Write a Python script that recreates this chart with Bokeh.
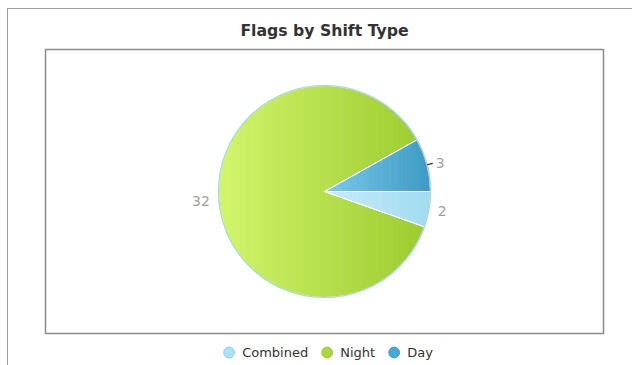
import numpy as np
from bokeh.plotting import figure
from bokeh.layouts import column
from bokeh.models import Range1d, Legend, LegendItem
from bokeh.core.properties import value
from bokeh.embed import file_html
from bokeh.resources import INLINE

# ---- data ----
categories = ["Combined", "Night", "Day"]
values = [2, 32, 3]
labels = ["2", "32", "3"]
color_left = ["#c8ecfa", "#d2f56c", "#7ccaec"]
color_right = ["#a0dbf0", "#9ccb2e", "#3c9ac4"]
legend_colors = ["#ace0f5", "#a9d840", "#4aa8d4"]
legend_edges = ["#8fcde6", "#97c933", "#3d9bc6"]
connector = [False, False, True]

# ---- layout ----
W = 624
H1, H2 = 330, 26
ML, MR, MT, MB = 37, 29, 40, 6
R_PX = 106.0
fw, fh = W - ML - MR, H1 - MT - MB
xr = fw / 2 / R_PX
yr = fh / 2 / R_PX

p = figure(width=W, height=H1, output_backend="svg", toolbar_location=None,
           x_range=Range1d(-xr, xr), y_range=Range1d(-yr, yr),
           x_axis_location=None, y_axis_location=None,
           min_border_left=ML, min_border_right=MR, min_border_top=MT,
           min_border_bottom=MB, title="Flags by Shift Type")
p.grid.grid_line_color = None
p.background_fill_color = "white"
p.border_fill_color = "white"
p.outline_line_color = "#8a8a8a"
p.outline_line_width = 1.5
p.title.align = "center"
p.title.text_font = "DejaVu Sans"
p.title.text_font_size = "15.7px"
p.title.text_font_style = "bold"
p.title.text_color = "#333333"
p.title.standoff = 19


def hex2rgb(h):
    h = h.lstrip("#")
    return np.array([int(h[i:i + 2], 16) for i in (0, 2, 4)], dtype=float)


def rgb2hex(c):
    return "#%02x%02x%02x" % tuple(int(round(v)) for v in c)


def clip_x(pts, c, keep_greater):
    out = []
    n = len(pts)
    for i in range(n):
        cur, prev = pts[i], pts[i - 1]
        kc = cur[0] >= c if keep_greater else cur[0] <= c
        kp = prev[0] >= c if keep_greater else prev[0] <= c
        if kc:
            if not kp:
                t = (c - prev[0]) / (cur[0] - prev[0])
                out.append((c, prev[1] + t * (cur[1] - prev[1])))
            out.append(cur)
        elif kp:
            t = (c - prev[0]) / (cur[0] - prev[0])
            out.append((c, prev[1] + t * (cur[1] - prev[1])))
    return out


total = float(sum(values))
cum = np.concatenate([[0.0], np.cumsum(values)]) / total
# clockwise from 3 o'clock
starts = [float(v) for v in -2 * np.pi * cum[1:]]
ends = [float(v) for v in -2 * np.pi * cum[:-1]]

xs, ys, cols = [], [], []
NSTRIP = 40
order = sorted(range(len(values)), key=lambda j: -values[j])  # big slice first
for i in order:
    a0, a1 = starts[i], ends[i]
    th = np.linspace(a0, a1, 200)
    poly = [(0.0, 0.0)] + [(float(np.cos(t)), float(np.sin(t))) for t in th]
    px = [q[0] for q in poly]
    xmin, xmax = min(px), max(px)
    cl, cr = hex2rgb(color_left[i]), hex2rgb(color_right[i])
    edges = np.linspace(xmin, xmax, NSTRIP + 1)
    for k in range(NSTRIP):
        part = clip_x(poly, float(edges[k]), True)
        if len(part) < 3:
            continue
        part = clip_x(part, float(edges[k + 1]), False)
        if len(part) < 3:
            continue
        t = (k + 0.5) / NSTRIP
        c = rgb2hex(cl + (cr - cl) * t)
        xs.append([float(q[0]) for q in part])
        ys.append([float(q[1]) for q in part])
        cols.append(c)

p.patches(xs=xs, ys=ys, fill_color=cols, line_color=cols, line_width=0.8)

# slice separators
p.wedge(x=0, y=0, radius=1, start_angle=starts, end_angle=ends,
        fill_color=None, line_color="white", line_width=1)
# pie outline
p.circle(x=[0], y=[0], radius=1, fill_color=None, line_color="#a3d6e6", line_width=1.2)

# data labels
LR = 1.085
for i in range(len(values)):
    m = (starts[i] + ends[i]) / 2
    c, s = float(np.cos(m)), float(np.sin(m))
    align = "left" if c >= 0 else "right"
    p.text(x=[LR * c], y=[LR * s], text=[labels[i]], text_align=align,
           text_baseline="middle", text_font=value("DejaVu Sans"),
           text_font_size="14px", text_color="#a0a0a0")
    if connector[i]:
        p.segment(x0=[1.0 * c], y0=[1.0 * s], x1=[1.055 * c], y1=[1.055 * s],
                  line_color="#222222", line_width=1.2)

# legend strip (separate small figure below the plot)
lf = figure(width=W, height=H2, output_backend="svg", toolbar_location=None,
            x_range=Range1d(0, 1), y_range=Range1d(0, 1),
            x_axis_location=None, y_axis_location=None,
            min_border=0, outline_line_color=None)
lf.grid.grid_line_color = None
lf.border_fill_color = "white"
items = []
for i, name in enumerate(categories):
    r = lf.scatter(x=[float("nan")], y=[float("nan")], marker="circle", size=12,
                   fill_color=legend_colors[i], line_color=legend_edges[i])
    items.append(LegendItem(label=name, renderers=[r]))
legend = Legend(items=items, orientation="horizontal", location="center",
                label_text_font="DejaVu Sans", label_text_font_size="13px",
                label_text_color="#333333", glyph_width=27, glyph_height=27,
                label_standoff=0, spacing=5, padding=0, margin=0,
                border_line_color=None, background_fill_alpha=0)
lf.add_layout(legend)

layout = column(p, lf, spacing=0,
                styles={"margin-left": "7px", "margin-top": "8px",
                        "border-left": "1px solid #a0a0a0",
                        "border-top": "1px solid #a0a0a0"})

open("out.html", "w").write(file_html(layout, INLINE))
